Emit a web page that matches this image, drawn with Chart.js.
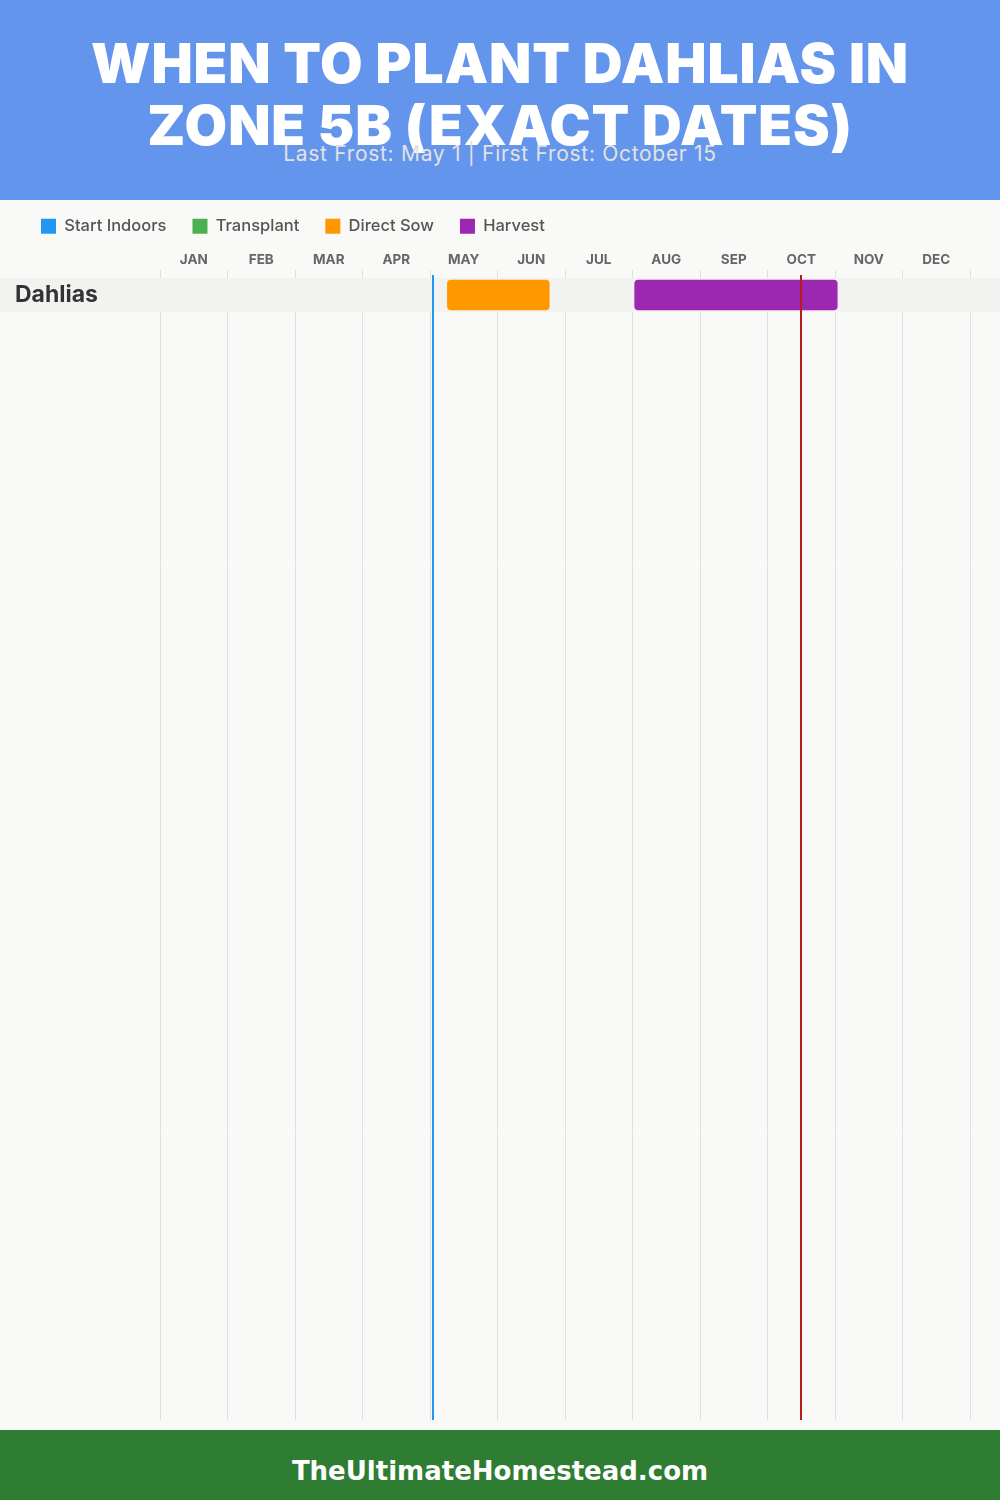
<!DOCTYPE html>
<html>
<head>
<meta charset="utf-8">
<script src="https://cdn.jsdelivr.net/npm/chart.js@4.4.1/dist/chart.umd.min.js"></script>
<style>
  html, body { margin: 0; padding: 0; }
  body { width: 1000px; height: 1500px; background: #f9f9f7; position: relative; overflow: hidden; font-family: Inter, sans-serif; }
  #header { position: absolute; left: 0; top: 0; width: 1000px; height: 200px; background: #6495ed; }
  #title { position: absolute; left: 0; top: 32px; width: 1000px; margin: 0; text-align: center; color: #fff;
    font-family: Inter, sans-serif; font-weight: 900; font-size: 55px; line-height: 62px; letter-spacing: 0.9px; text-transform: uppercase; }
  #subtitle { position: absolute; left: 0; top: 141px; width: 1000px; text-align: center; color: #e2e2e2;
    font-family: Inter, sans-serif; font-size: 21px; line-height: 26px; letter-spacing: 0.7px; }
  #chartBox { position: absolute; left: 0; top: 192px; width: 1000px; height: 1238px; }
  #footer { position: absolute; left: 0; top: 1430px; width: 1000px; height: 70px; overflow: hidden; background: #2e7d32;
    color: #fff; text-align: center; font-family: "DejaVu Sans", sans-serif; font-weight: bold; font-size: 26px; line-height: 82px; }
</style>
</head>
<body>
<div id="header">
  <h1 id="title">When to Plant Dahlias in<br>Zone 5B (Exact Dates)</h1>
  <div id="subtitle">Last Frost: May 1 | First Frost: October 15</div>
</div>
<div id="chartBox"><canvas id="chart"></canvas></div>
<div id="footer">TheUltimateHomestead.com</div>

<script>
// données du calendrier
const months = ["JAN", "FEB", "MAR", "APR", "MAY", "JUN", "JUL", "AUG", "SEP", "OCT", "NOV", "DEC"];
const plants = ["Dahlias"];
const startIndoors = [];              // aucune période
const transplant = [];                // aucune période
const directSow = [["05-08", "06-23"]];
const harvest = [["08-01", "11-01"]];
const lastFrost = "05-01";
const firstFrost = "10-15";

const daysInMonth = [31, 28, 31, 30, 31, 30, 31, 31, 30, 31, 30, 31];

// "MM-DD" -> position en mois sur l'axe (0 = 1er janvier, 12 = fin décembre)
function monthPos(str) {
  const [m, d] = str.split("-").map(Number);
  return (m - 1) + d / daysInMonth[m - 1];
}

function toBars(periods) {
  return periods.map((p, i) => p ? { x: [monthPos(p[0]), monthPos(p[1])], y: i } : null).filter(Boolean);
}

const ROW_H = 34;
const AREA_H = 1142;

// fond gris de chaque ligne
const rowBackground = {
  id: "rowBackground",
  beforeDatasetsDraw(chart) {
    const ctx = chart.ctx;
    const y = chart.scales.y;
    ctx.save();
    ctx.fillStyle = "#f2f2f0";
    plants.forEach((p, i) => {
      const top = y.getPixelForValue(i - 0.5);
      const bottom = y.getPixelForValue(i + 0.5);
      ctx.fillRect(0, top, chart.width, bottom - top);
    });
    ctx.restore();
  }
};

// lignes des gelées
const frostLines = {
  id: "frostLines",
  afterDatasetsDraw(chart) {
    const ctx = chart.ctx;
    const x = chart.scales.x;
    const area = chart.chartArea;
    [[lastFrost, "#2196f3"], [firstFrost, "#b71c1c"]].forEach(([date, color]) => {
      const px = Math.round(x.getPixelForValue(monthPos(date))) + 1;
      ctx.save();
      ctx.strokeStyle = color;
      ctx.lineWidth = 2;
      ctx.beginPath();
      ctx.moveTo(px, area.top - 3);
      ctx.lineTo(px, area.bottom);
      ctx.stroke();
      ctx.restore();
    });
  }
};

new Chart(document.getElementById("chart"), {
  type: "bar",
  data: {
    datasets: [
      { label: "Start Indoors", data: toBars(startIndoors), backgroundColor: "#2196f3" },
      { label: "Transplant", data: toBars(transplant), backgroundColor: "#4caf50" },
      { label: "Direct Sow", data: toBars(directSow), backgroundColor: "#ff9800" },
      { label: "Harvest", data: toBars(harvest), backgroundColor: "#9c27b0" }
    ]
  },
  options: {
    indexAxis: "y",
    responsive: true,
    maintainAspectRatio: false,
    animation: false,
    layout: { padding: { left: 15, right: 30, top: 0, bottom: 10 } },
    datasets: {
      bar: { grouped: false, barThickness: 30, borderRadius: 4, borderSkipped: false }
    },
    plugins: {
      tooltip: { enabled: false },
      legend: {
        position: "top",
        align: "start",
        labels: {
          boxWidth: 15,
          boxHeight: 15,
          padding: 26,
          color: "#555",
          font: { family: "Inter", size: 16.5, weight: "500" }
        }
      }
    },
    scales: {
      x: {
        type: "linear",
        position: "top",
        min: 0,
        max: 12,
        afterFit: (scale) => { scale.height = 86 - scale.chart.legend.height; },
        ticks: {
          stepSize: 1,
          labelOffset: 33.75,
          padding: 2,
          color: "#666",
          font: { family: "Inter", size: 13.5, weight: "bold" },
          callback: (v) => months[v] || ""
        },
        grid: { color: "#e0e0e0", tickLength: 8 },
        border: { display: false }
      },
      y: {
        type: "linear",
        reverse: true,
        offset: false,
        min: -0.5,
        max: -0.5 + AREA_H / ROW_H,
        afterFit: (scale) => {
          scale.width = 145;
          scale.paddingTop = 0;
          scale.paddingBottom = 0;
        },
        afterBuildTicks: (scale) => { scale.ticks = plants.map((p, i) => ({ value: i })); },
        ticks: {
          z: 1,
          crossAlign: "far",
          color: "#333",
          font: { family: "Inter", size: 23, weight: "bold" },
          callback: (v) => plants[v]
        },
        grid: { display: false },
        border: { display: false }
      }
    }
  },
  plugins: [rowBackground, frostLines]
});
</script>
</body>
</html>
